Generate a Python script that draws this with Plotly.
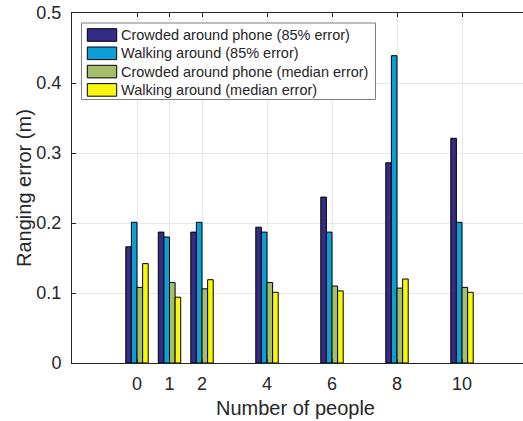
import plotly.graph_objects as go

# Number of people in the room (numeric x positions)
people = [0, 1, 2, 4, 6, 8, 10]

# Ranging error in metres for each scenario
crowded_85 = [0.166, 0.187, 0.187, 0.194, 0.237, 0.286, 0.321]
walking_85 = [0.201, 0.180, 0.201, 0.187, 0.187, 0.439, 0.201]
crowded_med = [0.108, 0.115, 0.106, 0.115, 0.110, 0.107, 0.108]
walking_med = [0.142, 0.094, 0.119, 0.101, 0.103, 0.120, 0.101]

y_ticks = [0, 0.1, 0.2, 0.3, 0.4, 0.5]
y_tick_labels = ["0", "0.1", "0.2", "0.3", "0.4", "0.5"]

series_names = [
    "Crowded around phone (85% error)",
    "Walking around (85% error)",
    "Crowded around phone (median error)",
    "Walking around (median error)",
]
series_values = [crowded_85, walking_85, crowded_med, walking_med]
series_colors = ["#342C86", "#0C9FD6", "#A3BF6C", "#F7F70E"]

W, H = 523, 421
ML, MR, MT, MB = 72, 0, 13, 58
PW, PH = W - ML - MR, H - MT - MB
UNIT_PX = 32.5  # pixels per person on the x axis
X0 = -2.0
X1 = X0 + PW / UNIT_PX

TEXT = "#262626"
FONT = "Liberation Sans, Arial, Helvetica, sans-serif"

fig = go.Figure()
for name, vals, col in zip(series_names, series_values, series_colors):
    fig.add_trace(go.Bar(
        x=people, y=vals, name=name,
        marker=dict(color=col, line=dict(color="#000000", width=1)),
        showlegend=False,
    ))


def px_to_paper(px, py):
    return (px - ML) / PW, (H - MB - py) / PH


shapes = []
annotations = []

# Legend frame
lx0, ly0 = px_to_paper(81.5, 23)
lx1, ly1 = px_to_paper(375.5, 99.5)
shapes.append(dict(type="rect", xref="paper", yref="paper",
                   x0=lx0, y0=ly1, x1=lx1, y1=ly0,
                   line=dict(color="#7f7f7f", width=1),
                   fillcolor="white", layer="above"))

# Legend swatches and labels
for i, (name, col) in enumerate(zip(series_names, series_colors)):
    top = 28.7 + i * 18.3
    sx0, sy0 = px_to_paper(87.3, top)
    sx1, sy1 = px_to_paper(116.7, top + 12.6)
    shapes.append(dict(type="rect", xref="paper", yref="paper",
                       x0=sx0, y0=sy1, x1=sx1, y1=sy0,
                       line=dict(color="#000000", width=1),
                       fillcolor=col, layer="above"))
    tx, ty = px_to_paper(118.5, top + 6.3)
    annotations.append(dict(xref="paper", yref="paper", x=tx, y=ty,
                            text=name, showarrow=False,
                            xanchor="left", yanchor="middle",
                            font=dict(family=FONT, size=14.5, color=TEXT)))

# Axis titles
xt, yt = px_to_paper(295, 408)
annotations.append(dict(xref="paper", yref="paper", x=xt, y=yt,
                        text="Number of people", showarrow=False,
                        xanchor="center", yanchor="middle",
                        font=dict(family=FONT, size=20, color=TEXT)))
xt, yt = px_to_paper(24, 188)
annotations.append(dict(xref="paper", yref="paper", x=xt, y=yt,
                        text="Ranging error (m)", showarrow=False,
                        textangle=-90, xanchor="center", yanchor="middle",
                        font=dict(family=FONT, size=20, color=TEXT)))

fig.update_layout(
    width=W, height=H,
    margin=dict(l=ML, r=MR, t=MT, b=MB, pad=0),
    paper_bgcolor="white", plot_bgcolor="white",
    barmode="group", bargap=0.31, bargroupgap=0.0,
    font=dict(family=FONT, size=18, color=TEXT),
    shapes=shapes, annotations=annotations,
    xaxis=dict(
        range=[X0, X1], tickmode="array", tickvals=people,
        ticktext=[str(p) for p in people],
        showgrid=True, gridcolor="#e6e6e6", gridwidth=1,
        zeroline=False, showline=True, linecolor="#262626", linewidth=1,
        mirror="ticks", ticks="inside", ticklen=4, tickcolor="#262626",
        tickfont=dict(size=18, color=TEXT), ticklabelstandoff=4,
        automargin=False,
    ),
    yaxis=dict(
        range=[0, 0.5], tickmode="array",
        tickvals=y_ticks, ticktext=y_tick_labels,
        showgrid=True, gridcolor="#e6e6e6", gridwidth=1,
        zeroline=False, showline=True, linecolor="#262626", linewidth=1,
        mirror=False, ticks="inside", ticklen=4, tickcolor="#262626",
        tickfont=dict(size=18, color=TEXT), ticklabelstandoff=6,
        automargin=False,
    ),
)

fig.write_html("out.html")
